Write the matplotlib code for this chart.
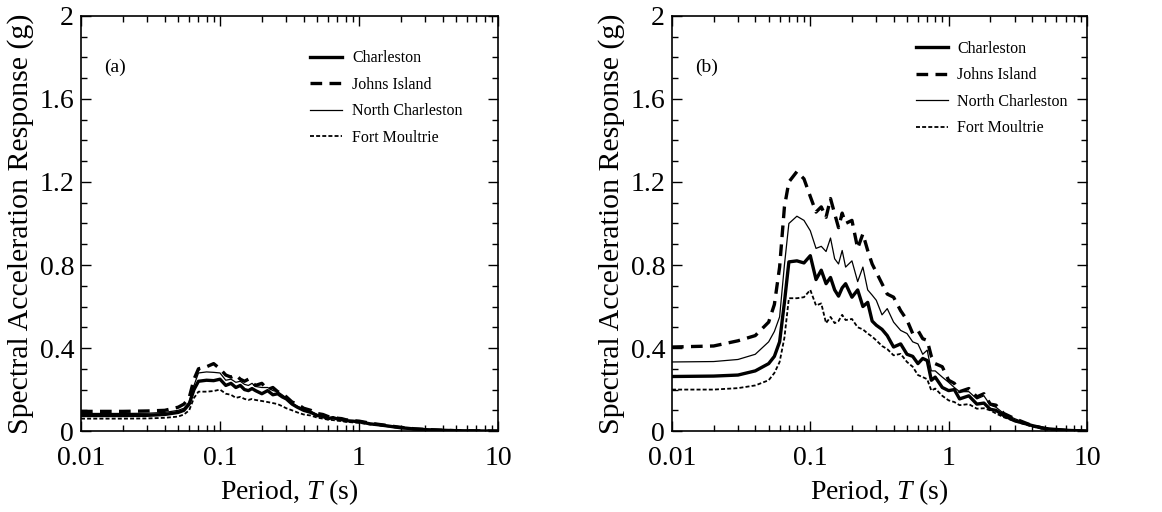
import numpy as np
import matplotlib
matplotlib.use('Agg')
import matplotlib.pyplot as plt
from matplotlib.ticker import FixedLocator, MultipleLocator, FuncFormatter

plt.rcParams['font.family'] = ['Liberation Serif', 'DejaVu Serif']
plt.rcParams['mathtext.fontset'] = 'custom'
plt.rcParams['mathtext.rm'] = 'Liberation Serif'
plt.rcParams['mathtext.it'] = 'Liberation Serif:italic'

# period grid (s)
period = [0.01, 0.02, 0.03, 0.04, 0.05,
          0.055, 0.06, 0.065, 0.07, 0.08,
          0.09, 0.1, 0.11, 0.12, 0.13,
          0.14, 0.15, 0.16, 0.17, 0.18,
          0.2, 0.22, 0.24, 0.26, 0.28,
          0.3, 0.33, 0.36, 0.4, 0.45,
          0.5, 0.55, 0.6, 0.65, 0.7,
          0.75, 0.8, 0.9, 1.0, 1.1,
          1.2, 1.4, 1.6, 1.8, 2.0,
          2.2, 2.5, 3, 4, 5,
          7, 10]

names = ['Charleston', 'Johns Island', 'North Charleston', 'Fort Moultrie']

# panel (a)
charleston_a = [0.075, 0.075, 0.076, 0.08, 0.09,
                0.1, 0.13, 0.2, 0.24, 0.245,
                0.243, 0.25, 0.22, 0.23, 0.21,
                0.22, 0.2, 0.195, 0.205, 0.195,
                0.18, 0.195, 0.175, 0.18, 0.165,
                0.155, 0.13, 0.115, 0.1, 0.09,
                0.075, 0.07, 0.06, 0.065, 0.058,
                0.055, 0.05, 0.048, 0.045, 0.04,
                0.035, 0.03, 0.025, 0.02, 0.016,
                0.014, 0.01, 0.007, 0.004, 0.002,
                0.001, 0.0]
johns_a = [0.095, 0.095, 0.097, 0.1, 0.115,
           0.13, 0.16, 0.25, 0.3, 0.31,
           0.325, 0.3, 0.27, 0.26, 0.27,
           0.25, 0.24, 0.25, 0.235, 0.22,
           0.23, 0.2, 0.21, 0.19, 0.18,
           0.165, 0.14, 0.13, 0.11, 0.1,
           0.085, 0.08, 0.07, 0.068, 0.062,
           0.06, 0.055, 0.05, 0.048, 0.043,
           0.038, 0.032, 0.027, 0.022, 0.018,
           0.015, 0.011, 0.008, 0.004, 0.002,
           0.001, 0.0]
north_a = [0.085, 0.085, 0.086, 0.09, 0.1,
           0.11, 0.14, 0.22, 0.28, 0.285,
           0.283, 0.28, 0.245, 0.25, 0.235,
           0.24, 0.225, 0.22, 0.23, 0.215,
           0.21, 0.21, 0.195, 0.19, 0.175,
           0.16, 0.135, 0.12, 0.105, 0.095,
           0.08, 0.075, 0.065, 0.066, 0.06,
           0.057, 0.052, 0.05, 0.046, 0.041,
           0.036, 0.031, 0.026, 0.021, 0.017,
           0.014, 0.01, 0.007, 0.004, 0.002,
           0.001, 0.0]
fort_a = [0.06, 0.06, 0.061, 0.064, 0.07,
          0.08, 0.1, 0.16, 0.19, 0.19,
          0.193, 0.2, 0.18, 0.175, 0.16,
          0.165, 0.155, 0.15, 0.155, 0.15,
          0.145, 0.14, 0.135, 0.13, 0.12,
          0.11, 0.1, 0.09, 0.08, 0.075,
          0.065, 0.06, 0.055, 0.053, 0.05,
          0.048, 0.045, 0.042, 0.04, 0.036,
          0.032, 0.028, 0.023, 0.019, 0.015,
          0.012, 0.009, 0.006, 0.003, 0.002,
          0.001, 0.0]

# panel (b)
charleston_b = [0.263, 0.265, 0.27, 0.29, 0.325,
                0.36, 0.43, 0.62, 0.815, 0.82,
                0.81, 0.845, 0.73, 0.775, 0.71,
                0.74, 0.68, 0.65, 0.69, 0.71,
                0.645, 0.68, 0.6, 0.62, 0.53,
                0.51, 0.49, 0.46, 0.405, 0.42,
                0.37, 0.36, 0.325, 0.35, 0.34,
                0.245, 0.26, 0.21, 0.195, 0.2,
                0.155, 0.17, 0.13, 0.135, 0.105,
                0.1, 0.075, 0.05, 0.027, 0.012,
                0.004, 0.0]
johns_b = [0.405, 0.41, 0.435, 0.46, 0.525,
           0.61, 0.79, 1.08, 1.2, 1.25,
           1.215, 1.13, 1.055, 1.08, 1.03,
           1.12, 1.047, 0.98, 1.05, 1.0,
           1.015, 0.88, 0.95, 0.87, 0.805,
           0.765, 0.71, 0.66, 0.645, 0.58,
           0.535, 0.47, 0.485, 0.445, 0.437,
           0.36, 0.325, 0.31, 0.245, 0.23,
           0.19, 0.205, 0.165, 0.18, 0.13,
           0.125, 0.085, 0.06, 0.027, 0.012,
           0.004, 0.0]
north_b = [0.333, 0.335, 0.345, 0.37, 0.43,
           0.48, 0.55, 0.8, 1.0, 1.035,
           1.015, 0.965, 0.88, 0.89, 0.865,
           0.93, 0.83, 0.805, 0.87, 0.79,
           0.82, 0.72, 0.79, 0.68, 0.655,
           0.63, 0.56, 0.59, 0.525, 0.485,
           0.47, 0.43, 0.42, 0.37, 0.39,
           0.29, 0.29, 0.26, 0.235, 0.21,
           0.19, 0.19, 0.155, 0.17, 0.125,
           0.115, 0.085, 0.06, 0.027, 0.012,
           0.004, 0.0]
fort_b = [0.2, 0.2, 0.207, 0.22, 0.245,
          0.28, 0.333, 0.45, 0.64, 0.64,
          0.645, 0.68, 0.605, 0.615, 0.52,
          0.55, 0.52, 0.53, 0.56, 0.535,
          0.54, 0.5, 0.49, 0.47, 0.455,
          0.437, 0.41, 0.395, 0.365, 0.372,
          0.333, 0.31, 0.27, 0.26, 0.25,
          0.195, 0.205, 0.17, 0.148, 0.14,
          0.125, 0.13, 0.108, 0.11, 0.1,
          0.085, 0.067, 0.048, 0.022, 0.008,
          0.003, 0.0]

styles = [dict(lw=2.4, ls='-'),
          dict(lw=2.4, ls=(0, (3.5, 2.2))),
          dict(lw=0.9, ls='-'),
          dict(lw=1.3, ls=(0, (2.2, 1.2)))]

fig = plt.figure(figsize=(11.62, 5.12), dpi=100)
ax_a = fig.add_axes([0.0697, 0.158, 0.3589, 0.811])
ax_b = fig.add_axes([0.5783, 0.158, 0.3571, 0.811])

panels = [(ax_a, '(a)', [charleston_a, johns_a, north_a, fort_a], (0.535, 0.932)),
          (ax_b, '(b)', [charleston_b, johns_b, north_b, fort_b], (0.572, 0.955))]

for ax, tag, series, leg_pos in panels:
    for name, vals, st in zip(names, series, styles):
        ax.plot(period, vals, color='black', label=name, **st)
    ax.set_xscale('log')
    ax.set_xlim(0.01, 10)
    ax.set_ylim(0, 2)
    ax.xaxis.set_major_locator(FixedLocator([0.01, 0.1, 1, 10]))
    ax.xaxis.set_major_formatter(FuncFormatter(lambda v, p: '%g' % v))
    ax.yaxis.set_major_locator(MultipleLocator(0.4))
    ax.yaxis.set_minor_locator(MultipleLocator(0.1))
    ax.yaxis.set_major_formatter(FuncFormatter(lambda v, p: '%g' % round(v, 1)))
    ax.tick_params(which='both', direction='in', top=True, right=True,
                   labelsize=20, width=1.0)
    ax.tick_params(which='major', length=7)
    ax.tick_params(axis='x', which='major', pad=11)
    ax.tick_params(axis='y', which='major', pad=5)
    ax.tick_params(which='minor', length=4)
    for s in ax.spines.values():
        s.set_linewidth(1.2)
    ax.set_xlabel('Period, $T$ (s)', fontsize=20, labelpad=4)
    ax.set_ylabel('Spectral Acceleration Response (g)', fontsize=21.5, labelpad=4)
    ax.text(0.055, 0.865, tag, transform=ax.transAxes, fontsize=14)
    ax.legend(loc='upper left', bbox_to_anchor=leg_pos, frameon=False,
              fontsize=11.5, handlelength=2.0, handletextpad=0.6,
              labelspacing=0.65, borderaxespad=0)

fig.savefig('out.png', dpi=100)
